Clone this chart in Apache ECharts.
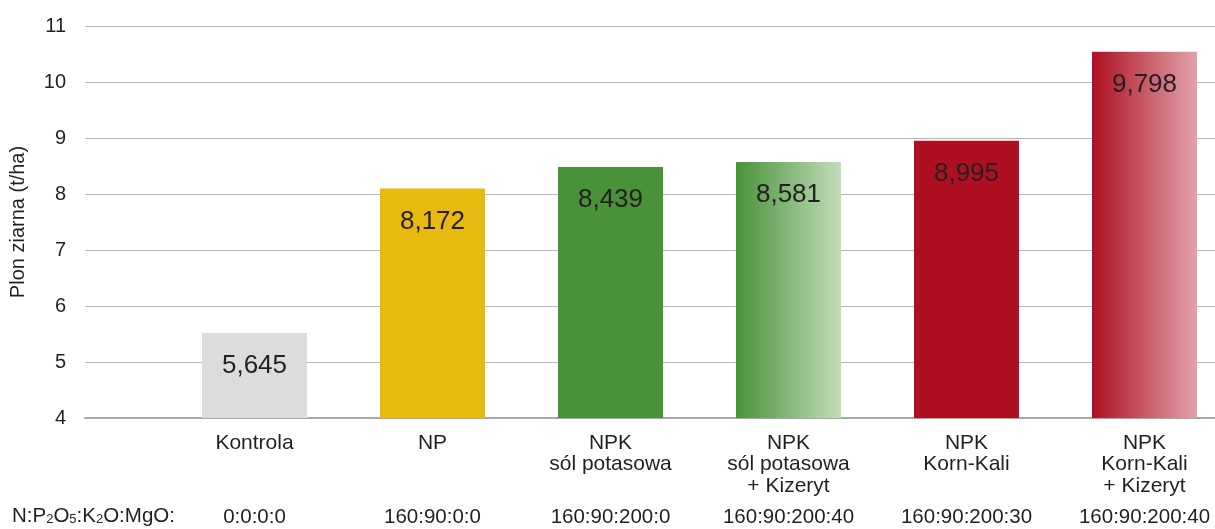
<!DOCTYPE html>
<html>
<head>
<meta charset="utf-8">
<script src="https://cdn.jsdelivr.net/npm/echarts@6/dist/echarts.min.js"></script>
<style>html,body{margin:0;padding:0;background:#fff}#c{width:1215px;height:529px}</style>
</head>
<body>
<div id="c"></div>
<script>
const categories = ['Kontrola', 'NP', 'NPK\nsól potasowa', 'NPK\nsól potasowa\n+ Kizeryt', 'NPK\nKorn-Kali', 'NPK\nKorn-Kali\n+ Kizeryt'];
const doses = ['0:0:0:0', '160:90:0:0', '160:90:200:0', '160:90:200:40', '160:90:200:30', '160:90:200:40'];
const barHeights = [5.52, 8.10, 8.48, 8.57, 8.95, 10.54];
const valueLabels = ['5,645', '8,172', '8,439', '8,581', '8,995', '9,798'];
const yTicks = [4, 5, 6, 7, 8, 9, 10, 11];

const grad = (a, b) => ({type: 'linear', x: 0, y: 0, x2: 1, y2: 0, colorStops: [{offset: 0, color: a}, {offset: 1, color: b}]});
const barColors = ['#dcdcdc', '#e8b90f', '#4a923a', grad('#4a923a', '#c2ddba'), '#ae1022', grad('#ae1022', '#e2a2aa')];
const txt = '#231f20';
const font = 'Liberation Sans, Arial, sans-serif';

const chart = echarts.init(document.getElementById('c'));
chart.setOption({
  animation: false,
  textStyle: {fontFamily: font},
  grid: [
    {left: 85, right: 0, top: 26, bottom: 111, containLabel: false, outerBoundsMode: 'none'},
    {left: 165.5, width: 1068, top: 26, bottom: 111, containLabel: false, outerBoundsMode: 'none'}
  ],
  xAxis: [
    {gridIndex: 0, type: 'value', min: 0, max: 1, axisLine: {show: true, lineStyle: {color: '#a8a8a8', width: 2}}, axisTick: {show: false}, axisLabel: {show: false}, splitLine: {show: false}},
    {gridIndex: 1, type: 'category', data: categories, axisLine: {show: false}, axisTick: {show: false},
     axisLabel: {interval: 0, margin: 14, fontSize: 21, lineHeight: 21.5, color: txt, fontFamily: font}},
    {gridIndex: 1, type: 'category', position: 'bottom', offset: 80, data: doses, axisLine: {show: false}, axisTick: {show: false},
     axisLabel: {interval: 0, margin: 8, fontSize: 20.5, lineHeight: 22, color: txt, fontFamily: font}}
  ],
  yAxis: [
    {gridIndex: 0, type: 'value', min: yTicks[0], max: yTicks[yTicks.length - 1], interval: 1,
     name: 'Plon ziarna (t/ha)', nameLocation: 'middle', nameGap: 57,
     nameTextStyle: {fontSize: 20, color: txt, fontFamily: font},
     axisLine: {show: false}, axisTick: {show: false},
     axisLabel: {fontSize: 20, color: txt, margin: 19, padding: [0, 0, 8, 0], fontFamily: font},
     splitLine: {lineStyle: {color: '#b5b5b5', width: 1}}},
    {gridIndex: 1, type: 'value', min: yTicks[0], max: yTicks[yTicks.length - 1], interval: 1, show: false, splitLine: {show: false}}
  ],
  series: [{
    type: 'bar', xAxisIndex: 1, yAxisIndex: 1, barWidth: 105,
    data: barHeights.map((v, i) => ({value: v, itemStyle: {color: barColors[i]}})),
    label: {show: true, position: 'insideTop', distance: 20, fontSize: 26, color: txt, fontFamily: font,
      formatter: p => valueLabels[p.dataIndex]}
  }],
  graphic: [{
    type: 'text', left: 12, top: 501,
    style: {
      text: '{n|N:P}{s|2}{n|O}{s|5}{n|:K}{s|2}{n|O:MgO:}',
      fill: txt,
      rich: {
        n: {fontSize: 20.5, fontFamily: font, fill: txt, lineHeight: 20, verticalAlign: 'top'},
        s: {fontSize: 13, fontFamily: font, fill: txt, lineHeight: 13, verticalAlign: 'bottom', padding: [12, 0, 0, 0]}
      }
    }
  }]
});
</script>
</body>
</html>
